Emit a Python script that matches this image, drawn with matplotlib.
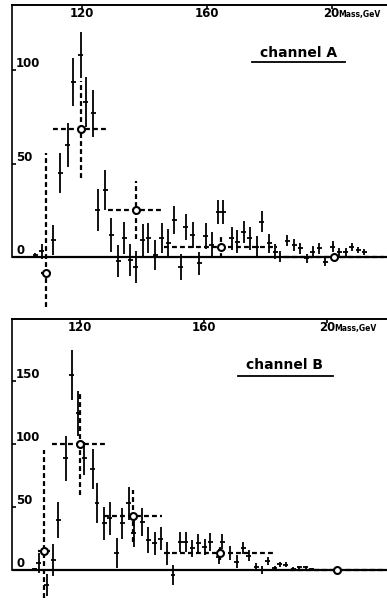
import matplotlib
matplotlib.use("Agg")
import matplotlib.pyplot as plt

# channel A, narrow mass bins (solid crosses)
mass_a = [105.0, 107.1, 110.8, 113.0, 115.4, 117.2, 119.6, 121.2, 123.6, 125.0,
          127.4, 129.3, 131.6, 133.5, 135.4, 137.3, 139.4, 141.3, 143.4, 145.5,
          147.7, 149.5, 151.6, 153.3, 155.5, 157.6, 159.7, 161.6, 163.7, 165.3,
          168.0, 169.8, 171.9, 173.8, 176.0, 177.6, 180.0, 181.9, 183.5, 185.8,
          188.0, 189.9, 192.0, 193.9, 196.1, 197.9, 200.4, 202.5, 204.5, 206.4,
          208.6, 210.4]
count_a = [1.0, 3.0, 9.1, 44.8, 59.9, 93.7, 108.0, 83.0, 76.8, 25.1,
           35.8, 11.8, -2.0, 10.0, -1.6, -5.2, 9.1, 10.0, 1.1, 10.0,
           7.3, 19.8, -5.2, 16.2, 11.8, -3.4, 11.2, 6.4, 24.2, 24.2,
           10.0, 8.2, 13.5, 10.0, 5.5, 18.9, 7.3, 2.8, 0.2, 8.7,
           6.4, 4.7, -0.7, 2.8, 4.7, -2.5, 5.5, 2.8, 2.8, 5.3,
           3.7, 2.8]
err_a = [1.0, 4.0, 8.0, 10.7, 11.8, 12.8, 12.3, 13.4, 12.8, 11.2,
         10.7, 9.0, 8.5, 8.5, 8.5, 8.5, 8.5, 8.0, 8.0, 8.0,
         7.5, 7.5, 7.0, 7.0, 7.0, 6.0, 7.0, 7.0, 6.5, 6.5,
         6.0, 6.0, 6.0, 6.0, 5.5, 5.5, 5.0, 4.0, 3.0, 3.0,
         3.0, 3.0, 2.5, 3.0, 3.0, 2.5, 3.0, 2.0, 2.0, 2.0,
         1.5, 1.5]

# channel A, wide bins (dashed crosses with open circles)
wide_mass_a = [108.4, 119.6, 137.2, 164.4, 200.8]
wide_count_a = [-8.6, 68.4, 25.1, 5.2, 0.0]
wide_xerr_a = [1.6, 9.0, 8.8, 18.0, 16.0]
wide_lo_a = [18.0, 26.0, 15.6, 5.5, 2.0]
wide_hi_a = [64.0, 26.0, 15.6, 5.5, 2.0]

# channel B, narrow mass bins
mass_b = [105.4, 106.7, 109.2, 111.4, 113.0, 115.4, 117.3, 119.5, 121.4, 124.2,
          125.5, 127.9, 129.6, 131.9, 133.7, 135.7, 137.4, 140.2, 142.1, 144.2,
          146.1, 148.2, 150.1, 152.4, 154.2, 156.3, 158.3, 160.3, 162.2, 164.9,
          166.1, 168.6, 170.7, 172.9, 174.6, 177.0, 178.9, 180.7, 183.0, 184.7,
          186.6, 189.0, 191.0, 193.1, 195.0]
count_b = [0.5, 5.3, -12.0, 7.9, 39.7, 88.6, 154.8, 124.3, 88.6, 79.9,
           53.0, 37.0, 41.0, 13.2, 37.0, 53.0, 29.5, 38.0, 23.8, 21.2,
           25.0, 13.2, -4.0, 22.5, 22.5, 17.2, 21.2, 18.5, 22.0, 10.6,
           22.5, 13.5, 6.6, 17.5, 11.5, 2.6, 0.0, 7.0, 1.5, 4.4,
           4.0, 0.5, 2.0, 2.0, 0.8]
err_b = [1.0, 8.0, 9.0, 13.0, 14.5, 18.0, 20.0, 18.0, 13.0, 16.0,
         16.0, 13.0, 13.0, 12.0, 12.5, 13.0, 11.0, 11.0, 10.0, 9.0,
         9.0, 9.0, 8.0, 8.0, 8.0, 7.0, 7.0, 6.5, 7.0, 6.0,
         6.0, 5.5, 5.0, 5.0, 4.0, 3.0, 3.0, 3.0, 2.0, 2.0,
         2.0, 1.5, 1.5, 1.5, 1.0]

# channel B, wide bins
wide_mass_b = [108.4, 120.0, 137.3, 165.3, 203.1]
wide_count_b = [15.0, 99.7, 43.0, 13.2, 0.0]
wide_xerr_b = [2.0, 9.0, 9.4, 18.0, 15.0]
wide_lo_b = [37.0, 40.0, 20.5, 5.0, 2.0]
wide_hi_b = [80.0, 40.0, 20.5, 5.0, 2.0]

x_ticks = [120, 160, 200]
x_tick_labels = ["120", "160", "20"]
y_ticks_a = [0, 50, 100]
y_ticks_b = [0, 50, 100, 150]

plt.rcParams["font.family"] = "DejaVu Sans"
plt.rcParams["font.weight"] = "bold"

fig = plt.figure(figsize=(3.87, 6.0), dpi=100)
W, H = 387.0, 600.0
ax_a = fig.add_axes([12 / W, (H - 312) / H, 375 / W, 307 / H])
ax_b = fig.add_axes([12 / W, 0.0, 375 / W, 281 / H])


def draw_panel(ax, mass, count, err, wm, wc, wx, wlo, whi, xlim, ylim, yticks,
               name, name_xy, line_x, line_y):
    ax.set_xlim(*xlim)
    ax.set_ylim(*ylim)
    ax.patch.set_alpha(0)

    ax.errorbar(mass, count, yerr=err, xerr=0.8, fmt="none", ecolor="black",
                elinewidth=1.3, capsize=0, zorder=3)

    eb = ax.errorbar(wm, wc, yerr=[wlo, whi], xerr=wx, fmt="o", ms=5,
                     mfc="white", mec="black", mew=1.5, ecolor="black",
                     elinewidth=1.6, capsize=0, zorder=4)
    for col in eb[2]:
        col.set_linestyle((0, (2.2, 1.4)))

    ax.axhline(0, color="black", lw=1.6, zorder=2)

    for s in ["right", "bottom"]:
        ax.spines[s].set_visible(False)
    ax.spines["top"].set_linewidth(1.4)
    ax.spines["left"].set_linewidth(1.2)
    ax.spines["left"].set_bounds(0, ylim[1])

    ax.xaxis.tick_top()
    ax.set_xticks(x_ticks)
    ax.set_xticklabels(x_tick_labels)
    ax.tick_params(axis="x", direction="in", length=3, width=1.2, pad=-1.5,
                   labelsize=8.5)
    for lbl in ax.get_xticklabels():
        lbl.set_va("top")

    ax.set_yticks(yticks)
    ax.set_yticklabels([str(t) for t in yticks])
    ax.tick_params(axis="y", direction="in", length=3, width=1.2, pad=-3,
                   labelsize=8.5)
    for lbl in ax.get_yticklabels():
        lbl.set_ha("left")
        lbl.set_va("bottom")

    ax.text(202.2, 0.983, "Mass,GeV", transform=ax.get_xaxis_transform(),
            ha="left", va="top", fontsize=5.5, fontweight="bold", clip_on=False)

    ax.text(name_xy[0], name_xy[1], name, transform=ax.transAxes,
            ha="center", va="center", fontsize=10, fontweight="bold")
    ax.plot(line_x, [line_y, line_y], color="black", lw=1.3,
            transform=ax.transAxes, clip_on=False)


draw_panel(ax_a, mass_a, count_a, err_a, wide_mass_a, wide_count_a,
           wide_xerr_a, wide_lo_a, wide_hi_a,
           (97.56, 217.76), (-29.4, 134.8), y_ticks_a,
           "channel A", (0.763, 0.843), (0.64, 0.888), 0.814)

draw_panel(ax_b, mass_b, count_b, err_b, wide_mass_b, wide_count_b,
           wide_xerr_b, wide_lo_b, wide_hi_b,
           (98.0, 219.35), (-23.8, 199.2), y_ticks_b,
           "channel B", (0.728, 0.836), (0.603, 0.856), 0.797)

fig.savefig("out.png", dpi=100)
